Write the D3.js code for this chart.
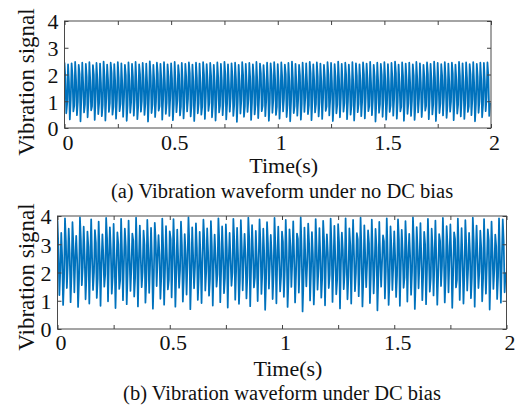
<!DOCTYPE html>
<html lang="en">
<head>
  <meta charset="UTF-8">
  <title>Vibration waveforms</title>
  <script src="https://d3js.org/d3.v7.min.js"></script>
  <style>
    body { margin: 0; background: #fff; }
    svg, svg text { font-family: "Liberation Serif", "Times New Roman", serif; }
    .axis path { display: none; }
    .axis line { stroke: #404040; }
    .tick text { fill: #111; font-family: "Liberation Serif", serif; font-size: 22px; }
  </style>
</head>
<body>
  <svg width="516" height="411"></svg>
  <script>
    const svg = d3.select("svg");

    const xTickValues = [0, 0.25, 0.5, 0.75, 1, 1.25, 1.5, 1.75, 2];
    const xLabelValues = [0, 0.5, 1, 1.5, 2];
    const yTickValues = [0, 1, 2, 3, 4];

    // (a) no DC bias: per-cycle peak, upper shoulder, trough, lower shoulder
    const hiA = [
      2.45,2.38,2.42,2.47,2.36,2.44,2.40,2.46,2.35,2.43,
      2.41,2.48,2.37,2.44,2.39,2.46,2.42,2.36,2.45,2.40,
      2.47,2.38,2.43,2.41,2.49,2.36,2.44,2.40,2.46,2.38,
      2.42,2.47,2.35,2.43,2.40,2.45,2.37,2.44,2.41,2.46,
      2.39,2.43,2.36,2.45,2.40,2.47,2.38,2.42,2.44,2.36,
      2.46,2.40,2.43,2.38,2.47,2.41,2.35,2.44,2.42,2.46,
      2.39,2.45,2.37,2.43,2.48,2.40,2.36,2.44,2.42,2.47,
      2.38,2.45,2.41,2.36,2.46,2.43,2.39,2.48,2.40,2.44,
      2.37,2.46,2.42,2.38,2.45,2.41,2.47,2.36,2.44,2.40,
      2.46,2.39,2.43,2.48,2.37,2.45,2.41,2.44,2.38,2.47,
      2.42,2.36,2.45,2.40,2.48,2.43,2.39,2.46,2.41,2.44,
      2.37,2.47,2.42,2.45,2.39,2.46,2.40,2.44,2.43,2.45
    ];
    const midHiA = [
      1.85,1.72,1.96,1.80,2.02,1.68,1.90,1.77,1.99,1.83,
      1.70,1.94,1.81,2.04,1.75,1.88,1.66,1.97,1.79,1.92,
      1.73,2.01,1.86,1.69,1.95,1.78,2.03,1.82,1.71,1.93,
      1.84,1.67,1.98,1.76,1.91,2.05,1.74,1.87,1.69,2.00,
      1.81,1.95,1.72,1.89,1.78,2.02,1.65,1.94,1.83,1.76,
      1.99,1.70,1.86,1.92,1.74,2.03,1.80,1.68,1.97,1.85,
      1.73,1.90,2.01,1.77,1.88,1.66,1.96,1.82,1.71,2.04,
      1.79,1.93,1.75,1.87,2.00,1.69,1.91,1.84,1.72,1.98,
      1.81,1.67,1.95,1.78,2.02,1.86,1.70,1.92,1.76,1.99,
      1.83,1.73,1.89,2.05,1.74,1.94,1.80,1.68,1.97,1.85,
      1.71,1.90,2.01,1.77,1.88,1.66,1.96,1.82,1.75,2.03,
      1.79,1.93,1.72,1.87,2.00,1.69,1.91,1.84,1.78,1.95
    ];
    const loA = [
      0.55,0.32,0.62,0.48,0.25,0.58,0.40,0.66,0.30,0.52,
      0.44,0.28,0.60,0.50,0.35,0.63,0.42,0.27,0.57,0.46,
      0.33,0.61,0.49,0.24,0.56,0.41,0.65,0.31,0.53,0.45,
      0.29,0.59,0.47,0.36,0.62,0.43,0.26,0.55,0.50,0.34,
      0.64,0.40,0.28,0.58,0.48,0.32,0.61,0.45,0.23,0.54,
      0.42,0.60,0.30,0.51,0.37,0.63,0.44,0.27,0.57,0.49,
      0.35,0.62,0.41,0.25,0.56,0.46,0.31,0.60,0.52,0.29,
      0.58,0.43,0.34,0.64,0.47,0.26,0.55,0.40,0.61,0.33,
      0.50,0.28,0.59,0.44,0.36,0.63,0.48,0.24,0.57,0.42,
      0.31,0.60,0.46,0.35,0.62,0.27,0.53,0.45,0.30,0.58,
      0.41,0.65,0.33,0.51,0.26,0.56,0.47,0.38,0.61,0.29,
      0.54,0.43,0.34,0.60,0.48,0.25,0.57,0.40,0.63,0.45
    ];
    const midLoA = [
      0.92,1.05,0.84,0.98,1.12,0.88,1.01,0.81,1.08,0.95,
      0.86,1.10,0.93,0.80,1.03,0.90,1.14,0.85,0.97,1.06,
      0.83,1.00,0.91,1.11,0.87,0.99,0.82,1.07,0.94,1.13,
      0.89,1.02,0.80,0.96,1.09,0.85,1.04,0.92,0.81,1.15,
      0.94,0.87,1.06,0.83,1.00,0.90,1.12,0.86,0.98,1.03,
      0.82,1.08,0.95,0.88,1.11,0.84,1.01,0.93,1.05,0.80,
      0.97,1.10,0.86,0.99,0.83,1.07,0.91,1.14,0.85,1.02,
      0.89,0.96,1.09,0.81,1.04,0.92,0.87,1.12,0.94,1.00,
      0.84,1.06,0.90,0.98,1.13,0.82,1.03,0.95,0.88,1.08,
      0.91,0.85,1.10,0.97,0.80,1.05,0.93,1.01,0.86,1.11,
      0.96,0.83,1.07,0.89,1.02,0.92,1.14,0.84,0.99,1.04,
      0.87,1.09,0.94,0.81,1.06,0.90,1.00,0.85,1.12,0.95
    ];

    // (b) DC bias
    const hiB = [
      3.85,3.40,3.92,3.55,3.78,3.30,3.95,3.62,3.45,3.88,
      3.50,3.80,3.35,3.93,3.60,3.72,3.42,3.90,3.55,3.84,
      3.38,3.94,3.66,3.48,3.86,3.58,3.76,3.32,3.91,3.64,
      3.46,3.89,3.52,3.80,3.36,3.95,3.60,3.74,3.44,3.87,
      3.56,3.82,3.34,3.92,3.63,3.70,3.40,3.90,3.58,3.85,
      3.37,3.94,3.68,3.47,3.88,3.55,3.78,3.33,3.93,3.62,
      3.45,3.86,3.53,3.81,3.38,3.95,3.59,3.73,3.43,3.89,
      3.57,3.83,3.35,3.91,3.65,3.71,3.41,3.92,3.56,3.86,
      3.39,3.94,3.67,3.49,3.87,3.54,3.79,3.31,3.92,3.63,
      3.46,3.88,3.51,3.82,3.37,3.95,3.61,3.75,3.44,3.90,
      3.55,3.84,3.36,3.93,3.64,3.70,3.42,3.91,3.57,3.85,
      3.40,3.94,3.66,3.48,3.89,3.53,3.80,3.34,3.92,3.88
    ];
    const midHiB = [
      2.85,2.55,3.10,2.70,2.95,2.45,3.15,2.65,2.90,2.50,
      3.05,2.75,2.60,3.20,2.80,2.48,3.00,2.68,2.92,2.58,
      3.12,2.72,2.52,2.98,2.83,2.46,3.08,2.63,2.88,2.55,
      3.18,2.78,2.50,2.96,2.66,3.02,2.57,2.86,2.44,3.14,
      2.74,2.93,2.53,3.06,2.69,2.82,2.47,3.11,2.62,2.89,
      2.56,3.16,2.76,2.51,2.99,2.67,3.04,2.59,2.84,2.45,
      3.09,2.73,2.94,2.54,3.19,2.79,2.49,3.01,2.64,2.87,
      2.58,3.13,2.71,2.91,2.52,3.07,2.81,2.46,2.97,2.61,
      3.17,2.77,2.55,3.03,2.68,2.90,2.48,3.10,2.65,2.85,
      2.53,3.15,2.74,2.95,2.57,3.05,2.80,2.50,3.00,2.63,
      2.88,2.46,3.12,2.72,2.93,2.56,3.18,2.78,2.51,2.98,
      2.67,3.06,2.60,2.86,2.44,3.14,2.75,2.92,2.54,3.08
    ];
    const loB = [
      1.20,0.85,1.45,0.95,1.30,0.78,1.55,1.05,0.90,1.38,
      1.10,0.82,1.50,0.98,1.25,0.74,1.42,1.02,0.88,1.35,
      1.15,0.80,1.48,0.93,1.28,0.72,1.52,1.07,0.86,1.40,
      1.12,0.79,1.46,0.97,1.22,0.70,1.44,1.03,0.92,1.36,
      1.18,0.83,1.50,0.95,1.27,0.76,1.53,1.04,0.89,1.37,
      1.08,0.81,1.47,0.99,1.24,0.68,1.43,1.06,0.91,1.33,
      1.14,0.78,1.49,0.94,1.29,0.62,1.51,1.01,0.87,1.39,
      1.11,0.84,1.45,0.96,1.23,0.73,1.41,1.05,0.90,1.34,
      1.16,0.80,1.48,0.92,1.26,0.66,1.50,1.08,0.85,1.38,
      1.13,0.82,1.46,0.97,1.21,0.71,1.44,1.02,0.88,1.32,
      1.19,0.86,1.52,0.94,1.30,0.75,1.47,1.03,0.90,1.36,
      1.09,0.79,1.45,0.98,1.25,0.69,1.42,1.06,0.93,1.30
    ];
    const midLoB = [
      2.05,1.80,2.30,1.95,2.45,1.75,2.20,1.90,2.38,2.00,
      1.78,2.25,1.92,2.48,1.85,2.12,1.72,2.35,1.98,2.18,
      1.82,2.42,2.02,1.76,2.28,1.94,2.50,1.88,2.15,1.74,
      2.32,1.97,2.08,1.79,2.40,1.91,2.22,1.84,2.46,2.03,
      1.77,2.27,1.93,2.14,1.81,2.37,1.99,2.10,1.73,2.44,
      1.89,2.19,1.83,2.34,2.01,1.76,2.29,1.95,2.47,1.86,
      2.11,1.79,2.39,1.96,2.24,1.71,2.36,2.04,1.87,2.16,
      1.80,2.43,1.92,2.26,1.75,2.31,2.00,1.85,2.49,1.98,
      2.13,1.78,2.33,1.94,2.21,1.82,2.41,2.06,1.74,2.27,
      1.90,2.17,1.83,2.45,2.02,1.77,2.35,1.96,2.09,1.81,
      2.38,1.93,2.23,1.86,2.48,1.99,1.73,2.30,1.91,2.15,
      1.84,2.42,2.05,1.79,2.28,1.97,2.12,1.88,2.44,2.00
    ];

    const panels = [
      { series: [hiA, midHiA, loA, midLoA],
        left: 64.5, right: 491, top: 21, bottom: 128,
        yLabelY: 82, tickBase: 150, timeBase: 173, capBase: 198,
        caption: "(a) Vibration waveform under no DC bias" },
      { series: [hiB, midHiB, loB, midLoB],
        left: 57.5, right: 506.5, top: 216, bottom: 329,
        yLabelY: 277, tickBase: 350, timeBase: 376, capBase: 400,
        caption: "(b) Vibration waveform under DC bias" }
    ];

    // interleave the per-cycle samples into one time series over 0..2 s
    function buildSeries(cols) {
      const n = cols[0].length, k = cols.length;
      const dt = 2 / (n * k);
      const pts = [];
      for (let i = 0; i < n; i++)
        for (let j = 0; j < k; j++)
          pts.push([(i * k + j) * dt, cols[j][i]]);
      return pts;
    }

    panels.forEach((p, pi) => {
      const x = d3.scaleLinear().domain([0, 2]).range([p.left, p.right]);
      const y = d3.scaleLinear().domain([0, 4]).range([p.bottom, p.top]);
      const g = svg.append("g");

      g.append("clipPath").attr("id", "clip" + pi)
        .append("rect")
        .attr("x", p.left).attr("y", p.top)
        .attr("width", p.right - p.left).attr("height", p.bottom - p.top);

      const line = d3.line().x(d => x(d[0])).y(d => y(d[1]));
      g.append("path")
        .datum(buildSeries(p.series))
        .attr("clip-path", `url(#clip${pi})`)
        .attr("fill", "none")
        .attr("stroke", "#0072BD")
        .attr("stroke-width", 1.75)
        .attr("stroke-linejoin", "round")
        .attr("d", line);

      // box
      g.append("rect")
        .attr("x", p.left).attr("y", p.top)
        .attr("width", p.right - p.left).attr("height", p.bottom - p.top)
        .attr("fill", "none").attr("stroke", "#4a4a4a").attr("stroke-width", 1);

      const fmtX = d => xLabelValues.includes(d) ? d3.format("")(d) : "";

      g.append("g").attr("class", "axis")
        .attr("transform", `translate(0,${p.bottom})`)
        .call(d3.axisBottom(x).tickValues(xTickValues).tickSize(-4).tickPadding(0).tickFormat(fmtX))
        .attr("font-family", null).attr("font-size", null)
        .selectAll("text")
        .attr("y", p.tickBase - p.bottom).attr("dy", null).attr("dx", 3);

      g.append("g").attr("class", "axis")
        .attr("transform", `translate(0,${p.top})`)
        .call(d3.axisTop(x).tickValues(xTickValues).tickSize(-4).tickFormat(""));

      g.append("g").attr("class", "axis")
        .attr("transform", `translate(${p.left},0)`)
        .call(d3.axisLeft(y).tickValues(yTickValues).tickSize(-4).tickPadding(6).tickFormat(d3.format("d")))
        .attr("font-family", null).attr("font-size", null)
        .selectAll("text")
        .attr("dy", "0.36em");

      g.append("g").attr("class", "axis")
        .attr("transform", `translate(${p.right},0)`)
        .call(d3.axisRight(y).tickValues(yTickValues).tickSize(-4).tickFormat(""));

      g.append("text")
        .attr("transform", `translate(34,${p.yLabelY}) rotate(-90)`)
        .attr("text-anchor", "middle")
        .attr("font-size", 23)
        .attr("fill", "#111")
        .text("Vibration signal");

      g.append("text")
        .attr("x", (p.left + p.right) / 2 + 6)
        .attr("y", p.timeBase)
        .attr("text-anchor", "middle")
        .attr("font-size", 22)
        .attr("fill", "#111")
        .text("Time(s)");

      g.append("text")
        .attr("x", 282)
        .attr("y", p.capBase)
        .attr("text-anchor", "middle")
        .attr("font-size", 20.5)
        .attr("fill", "#111")
        .text(p.caption);
    });
  </script>
</body>
</html>
